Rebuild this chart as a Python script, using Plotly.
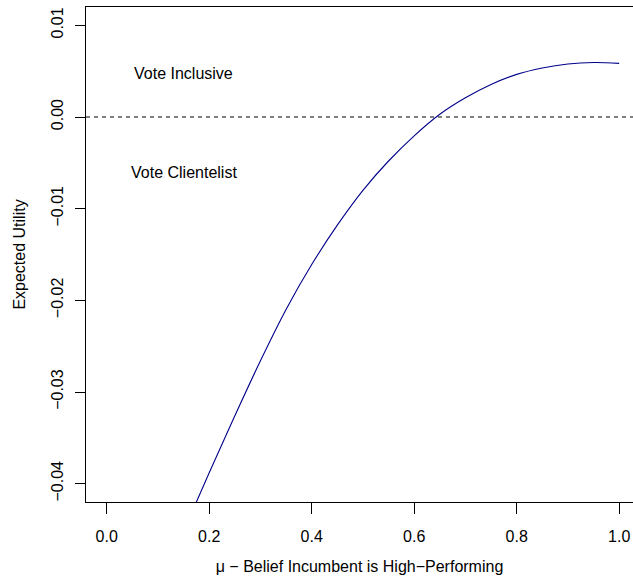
import plotly.graph_objects as go

# Belief that the incumbent is high-performing (mu) and the expected utility
# difference between voting inclusive and voting clientelist.
mu = [0.15, 0.20, 0.25, 0.30, 0.35, 0.40, 0.45, 0.50, 0.55, 0.60,
      0.65, 0.70, 0.75, 0.80, 0.85, 0.90, 0.95, 1.00]
expected_utility = [-0.0452, -0.0388, -0.0326, -0.0266, -0.0210, -0.0161,
                    -0.0118, -0.0080, -0.0048, -0.00205, 0.0003, 0.0021,
                    0.00355, 0.00465, 0.00535, 0.00578, 0.00594, 0.00585]

x_ticks = [0.0, 0.2, 0.4, 0.6, 0.8, 1.0]
x_tick_labels = ["0.0", "0.2", "0.4", "0.6", "0.8", "1.0"]
y_ticks = [0.01, 0.00, -0.01, -0.02, -0.03, -0.04]
y_tick_labels = ["0.01", "0.00", "\u22120.01", "\u22120.02", "\u22120.03", "\u22120.04"]

region_labels = ["Vote Inclusive", "Vote Clientelist"]
region_x = [0.15, 0.15]
region_y = [0.0048, -0.0061]

FONT = "Liberation Sans, Arial, Helvetica, sans-serif"

fig = go.Figure()

# indifference line at zero
fig.add_shape(type="line", xref="paper", yref="y", x0=0, x1=1, y0=0, y1=0,
              line=dict(color="black", width=1, dash="4px,4px"))

fig.add_trace(go.Scatter(
    x=mu, y=expected_utility, mode="lines",
    line=dict(color="#00008B", width=1.1, shape="spline", smoothing=1.0),
    hoverinfo="x+y", showlegend=False,
))

for txt, xx, yy in zip(region_labels, region_x, region_y):
    fig.add_annotation(x=xx, y=yy, text=txt, showarrow=False,
                       font=dict(family=FONT, size=16, color="black"),
                       xanchor="center", yanchor="middle")

fig.update_layout(
    width=633, height=579,
    margin=dict(l=86, r=0, t=7, b=77),
    paper_bgcolor="white", plot_bgcolor="white",
    font=dict(family=FONT, size=16, color="black"),
    showlegend=False,
)

fig.update_xaxes(
    range=[-0.0404, 1.027], tickmode="array", tickvals=x_ticks, ticktext=x_tick_labels,
    showgrid=False, zeroline=False,
    showline=True, linecolor="black", linewidth=1, mirror=True,
    ticks="outside", ticklen=11, tickwidth=1, tickcolor="black",
    tickfont=dict(family=FONT, size=16, color="black"), ticklabelstandoff=9,
    title=dict(text="\u03bc \u2212 Belief Incumbent is High\u2212Performing",
               font=dict(family=FONT, size=16, color="black"), standoff=16),
)
fig.update_yaxes(
    range=[-0.042, 0.012], tickmode="array", tickvals=y_ticks, ticktext=y_tick_labels,
    showgrid=False, zeroline=False,
    showline=True, linecolor="black", linewidth=1, mirror=False,
    ticks="outside", ticklen=10, tickwidth=1, tickcolor="black",
    tickangle=-90,
    tickfont=dict(family=FONT, size=16, color="black"), ticklabelstandoff=6,
    title=dict(text="Expected Utility",
               font=dict(family=FONT, size=16, color="black"), standoff=18),
)

fig.write_html("out.html")
